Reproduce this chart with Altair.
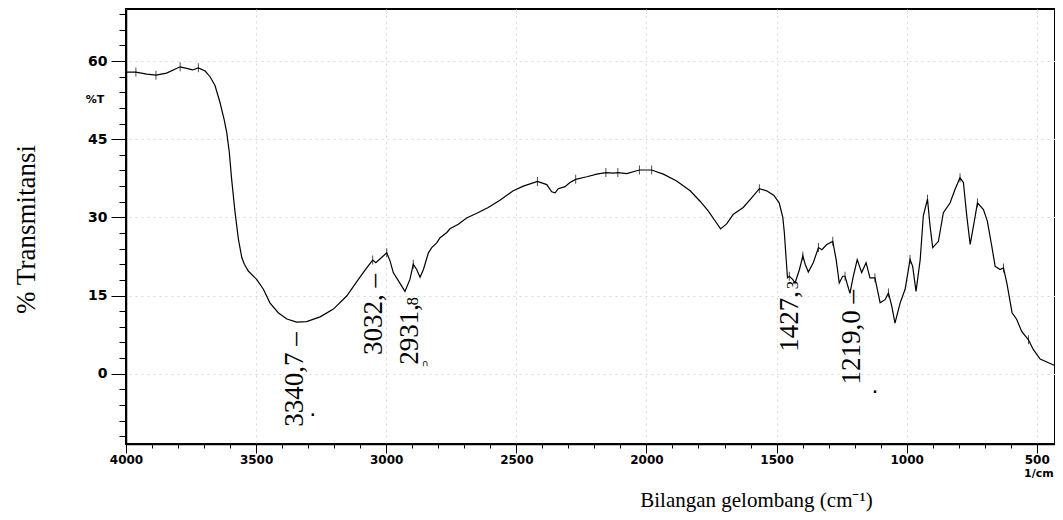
import altair as alt
import pandas as pd

# ---- spectrum (wavenumber in 1/cm, %T) ----
wavenumber = [4000, 3962, 3920, 3885, 3844, 3792, 3767, 3744, 3722, 3696, 3677, 3658, 3639, 3623,
              3613, 3603, 3594, 3581, 3568, 3555, 3545, 3530, 3498, 3472, 3447, 3415, 3382, 3344,
              3306, 3254, 3203, 3152, 3107, 3075, 3052, 3040, 3020, 2998, 2985, 2973, 2953, 2928,
              2909, 2896, 2883, 2870, 2857, 2851, 2838, 2825, 2806, 2793, 2767, 2755, 2723, 2691,
              2652, 2608, 2563, 2512, 2473, 2419, 2383, 2364, 2351, 2339, 2313, 2294, 2272, 2229,
              2191, 2156, 2127, 2110, 2076, 2027, 1980, 1935, 1884, 1832, 1794, 1762, 1736, 1715,
              1691, 1666, 1628, 1595, 1566, 1538, 1510, 1490, 1476, 1470, 1463, 1458, 1451, 1438,
              1429, 1412, 1399, 1390, 1378, 1359, 1339, 1326, 1307, 1284, 1271, 1259, 1246, 1237,
              1218, 1205, 1190, 1173, 1156, 1141, 1122, 1102, 1083, 1070, 1057, 1045, 1025, 1006,
              987, 977, 964, 948, 936, 920, 910, 900, 878, 859, 833, 814, 795, 782, 769, 756, 741,
              728, 705, 690, 673, 660, 641, 628, 615, 595, 577, 558, 532, 513, 487, 455, 423, 400]
transmittance = [57.9, 57.9, 57.5, 57.3, 57.7, 58.9, 58.6, 58.3, 58.7, 58.1, 57.0, 55.3, 52.1, 48.8,
                 46.3, 42.5, 37.3, 31.0, 25.8, 22.3, 21.0, 19.7, 18.1, 16.2, 13.6, 11.7, 10.5, 9.9,
                 10.0, 10.9, 12.4, 14.9, 18.1, 20.3, 21.8, 21.3, 22.2, 23.2, 21.6, 19.4, 17.8, 15.8,
                 18.1, 21.0, 20.0, 18.5, 20.0, 21.0, 23.2, 24.2, 25.1, 26.1, 27.1, 27.8, 28.7, 29.9,
                 30.8, 31.9, 33.3, 35.1, 36.0, 36.9, 36.3, 34.9, 34.7, 35.5, 35.9, 36.7, 37.3, 37.8,
                 38.3, 38.6, 38.5, 38.6, 38.4, 39.1, 39.1, 38.3, 37.0, 35.1, 33.1, 31.2, 29.3, 27.8,
                 28.8, 30.6, 31.9, 33.8, 35.5, 35.1, 34.2, 32.8, 30.0, 27.0, 21.9, 18.4, 18.7, 18.1,
                 17.4, 20.0, 22.6, 21.0, 19.5, 21.3, 24.2, 23.8, 24.8, 25.4, 21.9, 17.4, 18.7, 18.7,
                 15.4, 18.7, 21.9, 19.4, 21.3, 18.4, 18.4, 13.6, 14.2, 15.5, 12.9, 9.7, 13.6, 16.2,
                 21.9, 20.6, 15.8, 21.9, 30.3, 33.5, 28.3, 24.2, 25.4, 30.9, 32.8, 35.4, 37.6, 36.7,
                 30.3, 24.8, 29.0, 32.8, 31.5, 29.3, 24.5, 20.6, 20.0, 20.3, 17.4, 11.7, 10.4, 8.1,
                 6.5, 4.6, 2.8, 2.1, 1.4, 0.4]

# ---- peak markers drawn on the curve ----
peak_wn = [3962, 3885, 3792, 3722, 3052, 2998, 2896, 2419, 2272, 2156, 2110, 2027, 1980, 1566,
           1451, 1399, 1339, 1284, 1237, 1122, 1070, 987, 920, 795, 728, 628, 532]
peak_t = [57.9, 57.3, 58.9, 58.7, 21.8, 23.2, 21.0, 36.9, 37.3, 38.6, 38.6, 39.1, 39.1, 35.5,
          18.7, 22.6, 24.2, 25.4, 18.7, 18.4, 15.5, 21.9, 33.5, 37.6, 32.8, 20.3, 6.5]

# ---- rotated peak labels ----
label_text = ["3340,7 \u2013", "3032, \u2013", "2931,", "8", "1427,", "3", "1219,0 \u2013"]
label_wn = [3320, 3016, 2878, 2878, 1417, 1417, 1179]
label_t = [-10.2, 3.6, 1.7, 13.1, 4.2, 16.2, -2.1]
label_size = [27, 27, 27, 17, 27, 17, 27]

# ---- small fragments of cut label lines ----
frag_text = ["\u00b7", "\u2229", "\u00b7"]
frag_wn = [3282, 2851, 1122]
frag_t = [-7.9, 2.1, -3.5]
frag_size = [22, 9, 22]

# ---- extra axis captions ----
cap_text = ["%T", "1/cm"]
cap_wn = [4119, 492]
cap_t = [52.5, -19.2]

y_ticks = list(range(-12, 70, 3))
x_ticks = list(range(500, 4001, 100))

spec = pd.DataFrame({"wn": wavenumber, "T": transmittance})
peaks = pd.DataFrame({"wn": peak_wn, "T": peak_t})
labels = pd.DataFrame({"text": label_text, "wn": label_wn, "T": label_t, "size": label_size})
frags = pd.DataFrame({"text": frag_text, "wn": frag_wn, "T": frag_t, "size": frag_size})
caps = pd.DataFrame({"text": cap_text, "wn": cap_wn, "T": cap_t})

xscale = alt.Scale(domain=[430, 4000], reverse=True, nice=False, zero=False)
yscale = alt.Scale(domain=[-13.5, 70], nice=False, zero=False)

xaxis = alt.Axis(
    values=x_ticks, tickCount=500, format="d",
    labelExpr="datum.value % 500 === 0 ? datum.label : ''",
    tickSize={"condition": {"test": "datum.value % 500 === 0", "value": 9}, "value": 4},
    grid=True,
    gridOpacity={"condition": {"test": "datum.value % 500 === 0", "value": 1}, "value": 0},
    gridColor="#d8d8d8", gridDash=[2, 4], gridWidth=1,
    labelFont="DejaVu Sans", labelFontWeight="bold", labelFontSize=12, labelColor="black",
    labelFlush=False, labelOverlap=False, labelPadding=1,
    tickColor="black", domainColor="black", domainWidth=1.5,
    title="Bilangan gelombang (cm\u207b\u00b9)", titleFont="Liberation Serif", titleFontSize=21,
    titleFontWeight="normal", titleColor="black", titleX=630, titleY=56,
    titleAlign="center", titleBaseline="middle",
)
yaxis = alt.Axis(
    values=y_ticks, tickCount=500, format="d",
    labelExpr="datum.value % 15 === 0 ? datum.label : ''",
    tickSize={"condition": {"test": "datum.value % 15 === 0", "value": 15}, "value": 7},
    grid=True,
    gridOpacity={"condition": {"test": "datum.value % 15 === 0", "value": 1}, "value": 0},
    gridColor="#d8d8d8", gridDash=[2, 4], gridWidth=1,
    labelFont="DejaVu Sans", labelFontWeight="bold", labelFontSize=14, labelColor="black",
    labelFlush=False, labelOverlap=False, labelPadding=4,
    tickColor="black", domainColor="black", domainWidth=1.5,
    title="% Transmitansi", titleFont="Liberation Serif", titleFontSize=27,
    titleFontWeight="normal", titleColor="black", titleX=-100, titleY=220,
    titleAngle=270, titleAlign="center", titleBaseline="middle",
)

line = alt.Chart(spec).mark_line(color="black", strokeWidth=1.2, clip=True).encode(
    x=alt.X("wn:Q", scale=xscale, axis=xaxis),
    y=alt.Y("T:Q", scale=yscale, axis=yaxis),
    order=alt.Order("wn:Q", sort="descending"),
)

ticks = alt.Chart(peaks).mark_tick(orient="vertical", size=9, thickness=1, color="black").encode(
    x=alt.X("wn:Q", scale=xscale),
    y=alt.Y("T:Q", scale=yscale),
)

lab = alt.Chart(labels).mark_text(
    angle=270, align="left", baseline="alphabetic", font="Liberation Serif", color="black"
).encode(
    x=alt.X("wn:Q", scale=xscale),
    y=alt.Y("T:Q", scale=yscale),
    text="text:N",
    size=alt.Size("size:Q", scale=None, legend=None),
)

frag = alt.Chart(frags).mark_text(
    align="center", baseline="middle", font="DejaVu Sans", color="black"
).encode(
    x=alt.X("wn:Q", scale=xscale),
    y=alt.Y("T:Q", scale=yscale),
    text="text:N",
    size=alt.Size("size:Q", scale=None, legend=None),
)

cap = alt.Chart(caps).mark_text(
    align="center", baseline="middle", font="DejaVu Sans", fontWeight="bold", fontSize=11,
    color="black"
).encode(
    x=alt.X("wn:Q", scale=xscale),
    y=alt.Y("T:Q", scale=yscale),
    text="text:N",
)

chart = alt.layer(line, ticks, lab, frag, cap).properties(
    width=929, height=435,
    autosize=alt.AutoSizeParams(type="none"),
    padding={"left": 118, "top": 1, "right": 0, "bottom": 68},
    background="white",
).configure_view(stroke="black", strokeWidth=2)

chart.save("out.html", embed_options={"renderer": "svg", "actions": False})
